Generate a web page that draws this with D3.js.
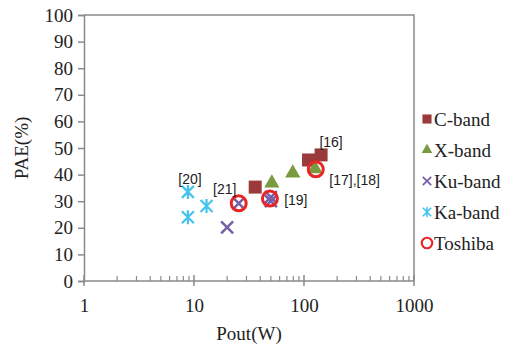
<!DOCTYPE html>
<html>
<head>
<meta charset="utf-8">
<script src="https://cdn.jsdelivr.net/npm/d3@7"></script>
<style>
  body { margin: 0; background: #fff; }
  svg { display: block; }
  .tick text { font-family: "Liberation Serif", "Times New Roman", serif; font-size: 19px; fill: #222; }
</style>
</head>
<body>
<svg id="chart" width="519" height="349"></svg>
<script>
// data (Pout in W, PAE in %)
const cBand = [[36, 35.3], [110, 45.5], [143, 47.4]];
const xBand = [[51, 36.8], [79, 40.6], [126, 42.2]];
const kuBand = [[20, 20.2], [25.5, 29.2], [50, 30], [50, 31.5]];
const kaBand = [[8.8, 33.5], [8.8, 24], [13, 28.2]];
const toshiba = [[25.5, 29.2], [49, 31], [128, 42]];
const refLabels = [
  { text: '[16]', x: 138, y: 50.4 },
  { text: '[17],[18]', x: 170, y: 36 },
  { text: '[19]', x: 66, y: 28.5 },
  { text: '[21]', x: 14.9, y: 32.7 },
  { text: '[20]', x: 7.2, y: 36.5 },
];
const yTicks = [0, 10, 20, 30, 40, 50, 60, 70, 80, 90, 100];
const xTicks = [1, 10, 100, 1000];

const svg = d3.select('#chart');
const plotL = 84, plotR = 414, plotT = 15, plotB = 281;

const x = d3.scaleLog().domain([1, 1000]).range([plotL, plotR]);
const y = d3.scaleLinear().domain([0, 100]).range([plotB, plotT]);
const axisColor = '#8a8a8a';

// frame (top + right)
svg.append('path')
  .attr('d', `M${plotL},${plotT}H${plotR}V${plotB}`)
  .attr('fill', 'none').attr('stroke', axisColor).attr('stroke-width', 1.5);

// y axis
const gy = svg.append('g').attr('transform', `translate(${plotL},0)`)
  .call(d3.axisLeft(y).tickValues(yTicks).tickSize(6).tickPadding(5));
gy.selectAll('.domain, .tick line').attr('stroke', axisColor).attr('stroke-width', 1.5);

// x axis, minor ticks inside
const minor = [];
for (let d = 1; d < 1000; d *= 10) for (let k = 2; k <= 9; k++) minor.push(d * k);
svg.append('g').selectAll('line').data(minor).join('line')
  .attr('x1', (d) => x(d)).attr('x2', (d) => x(d))
  .attr('y1', plotB).attr('y2', plotB - 5)
  .attr('stroke', axisColor).attr('stroke-width', 1.2);
svg.append('g').selectAll('line').data(xTicks).join('line')
  .attr('x1', (d) => x(d)).attr('x2', (d) => x(d))
  .attr('y1', plotB - 6).attr('y2', plotB + 5)
  .attr('stroke', axisColor).attr('stroke-width', 1.5);
const gx = svg.append('g').attr('transform', `translate(0,${plotB})`)
  .call(d3.axisBottom(x).tickValues(xTicks).tickFormat(d3.format('d')).tickSize(0).tickPadding(18));
gx.selectAll('.domain').attr('stroke', axisColor).attr('stroke-width', 1.5);
gx.select('.domain').attr('d', `M${plotL},0H${plotR}`);

// axis titles
svg.append('text').attr('x', (plotL + plotR) / 2).attr('y', 340)
  .attr('text-anchor', 'middle')
  .style('font-family', '"Liberation Serif", serif').style('font-size', '19px').attr('fill', '#222')
  .text('Pout(W)');
svg.append('text').attr('transform', `translate(28,${(plotT + plotB) / 2}) rotate(-90)`)
  .attr('text-anchor', 'middle')
  .style('font-family', '"Liberation Serif", serif').style('font-size', '19px').attr('fill', '#222')
  .text('PAE(%)');

// marker painters
const styles = {
  'C-band': { color: '#9a3a3a', data: cBand },
  'X-band': { color: '#7a9a40', data: xBand },
  'Ku-band': { color: '#7560a8', data: kuBand },
  'Ka-band': { color: '#43c3ee', data: kaBand },
  'Toshiba': { color: '#e82424', data: toshiba },
};

function drawMarker(g, name, s) {
  const c = styles[name].color;
  if (name === 'C-band') {
    g.append('rect').attr('x', -6.5 * s).attr('y', -6.5 * s).attr('width', 13 * s).attr('height', 13 * s).attr('fill', c);
  } else if (name === 'X-band') {
    g.append('path').attr('d', d3.symbol(d3.symbolTriangle, 100 * s * s)()).attr('fill', c);
  } else if (name === 'Ku-band') {
    g.append('path').attr('d', `M${-6 * s},${-6 * s}L${6 * s},${6 * s}M${-6 * s},${6 * s}L${6 * s},${-6 * s}`)
      .attr('stroke', c).attr('stroke-width', 2.5 * s);
  } else if (name === 'Ka-band') {
    g.append('path').attr('d', `M${-6 * s},${-6 * s}L${6 * s},${6 * s}M${-6 * s},${6 * s}L${6 * s},${-6 * s}M0,${-7 * s}V${7 * s}`)
      .attr('stroke', c).attr('stroke-width', 2.2 * s);
  } else {
    g.append('circle').attr('r', 7.5 * s).attr('fill', 'none').attr('stroke', c).attr('stroke-width', 3 * s);
  }
}

const order = ['C-band', 'X-band', 'Ku-band', 'Ka-band', 'Toshiba'];
order.forEach((name) => {
  styles[name].data.forEach((d) => {
    const g = svg.append('g').attr('transform', `translate(${x(d[0])},${y(d[1])})`);
    drawMarker(g, name, 1);
  });
});

// reference labels
svg.append('g').selectAll('text').data(refLabels).join('text')
  .attr('x', (d) => x(d.x)).attr('y', (d) => y(d.y))
  .style('font-family', '"Liberation Sans", Arial, sans-serif').style('font-size', '14px').attr('fill', '#222')
  .text((d) => d.text);

// legend
const legend = svg.append('g').attr('transform', 'translate(427,119)');
order.forEach((name, i) => {
  const row = legend.append('g').attr('transform', `translate(0,${i * 31})`);
  drawMarker(row, name, 0.7);
  row.append('text').attr('x', 7).attr('y', 6.5)
    .style('font-family', '"Liberation Serif", serif').style('font-size', '19px').attr('fill', '#222')
    .text(name);
});
</script>
</body>
</html>
